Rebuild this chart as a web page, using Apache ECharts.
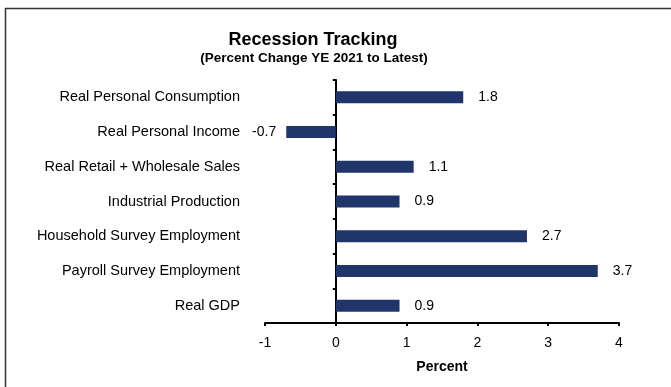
<!DOCTYPE html>
<html>
<head>
<meta charset="utf-8">
<script src="https://cdn.jsdelivr.net/npm/echarts@6/dist/echarts.min.js"></script>
<style>
  html, body { margin: 0; padding: 0; background: #fff; }
  #chart { width: 671px; height: 387px; }
</style>
</head>
<body>
<div id="chart"></div>
<script>
// Indicators, listed top to bottom
const categories = [
  'Real Personal Consumption',
  'Real Personal Income',
  'Real Retail + Wholesale Sales',
  'Industrial Production',
  'Household Survey Employment',
  'Payroll Survey Employment',
  'Real GDP'
];
// Percent change from year-end 2021 to the latest reading
const values = [1.8, -0.7, 1.1, 0.9, 2.7, 3.7, 0.9];

const titleText = 'Recession Tracking';
const subtitleText = '(Percent Change YE 2021 to Latest)';
const xAxisName = 'Percent';

const FONT = '"Liberation Sans", Arial, sans-serif';

const chart = echarts.init(document.getElementById('chart'), null, { renderer: 'canvas' });

chart.setOption({
  backgroundColor: '#fff',
  animation: false,
  title: [
    {
      text: titleText,
      left: 308, top: 26, textAlign: 'center',
      textStyle: { fontFamily: FONT, fontSize: 18, fontWeight: 'bold', color: '#000' }
    },
    {
      text: subtitleText,
      left: 309, top: 46, textAlign: 'center',
      textStyle: { fontFamily: FONT, fontSize: 13.5, fontWeight: 'bold', color: '#000' }
    }
  ],
  graphic: [
    {
      type: 'rect',
      shape: { x: 5.5, y: 8.5, width: 720, height: 420 },
      style: { fill: 'none', stroke: '#333', lineWidth: 1.5 },
      silent: true
    }
  ],
  grid: {
    left: 265, right: 52, top: 80, bottom: 64,
    containLabel: false,
    outerBoundsMode: 'none'
  },
  xAxis: {
    type: 'value',
    min: -1, max: 4, interval: 1,
    splitLine: { show: false },
    axisLine: { show: true, onZero: false, lineStyle: { color: '#000', width: 2 } },
    axisTick: { show: true, length: 3, lineStyle: { color: '#000', width: 2 } },
    axisLabel: { color: '#000', fontFamily: FONT, fontSize: 14, margin: 13 },
    name: xAxisName,
    nameLocation: 'middle',
    nameGap: 37,
    nameTextStyle: { color: '#000', fontFamily: FONT, fontSize: 14, fontWeight: 'bold' }
  },
  yAxis: {
    type: 'category',
    inverse: true,
    data: categories,
    axisLine: { show: true, onZero: true, lineStyle: { color: '#000', width: 2 } },
    axisTick: { show: true, length: 3, lineStyle: { color: '#000', width: 2 } },
    axisLabel: { color: '#000', fontFamily: FONT, fontSize: 14.5, margin: 25 }
  },
  series: [
    {
      type: 'bar',
      data: values.map(v => ({
        value: v,
        label: {
          position: v < 0 ? 'left' : 'right',
          distance: v < 0 ? 10 : 15
        }
      })),
      barWidth: 12,
      itemStyle: { color: '#203569' },
      label: {
        show: true,
        color: '#000',
        fontFamily: FONT,
        fontSize: 14,
        formatter: p => p.value.toFixed(1)
      }
    }
  ]
});
</script>
</body>
</html>
